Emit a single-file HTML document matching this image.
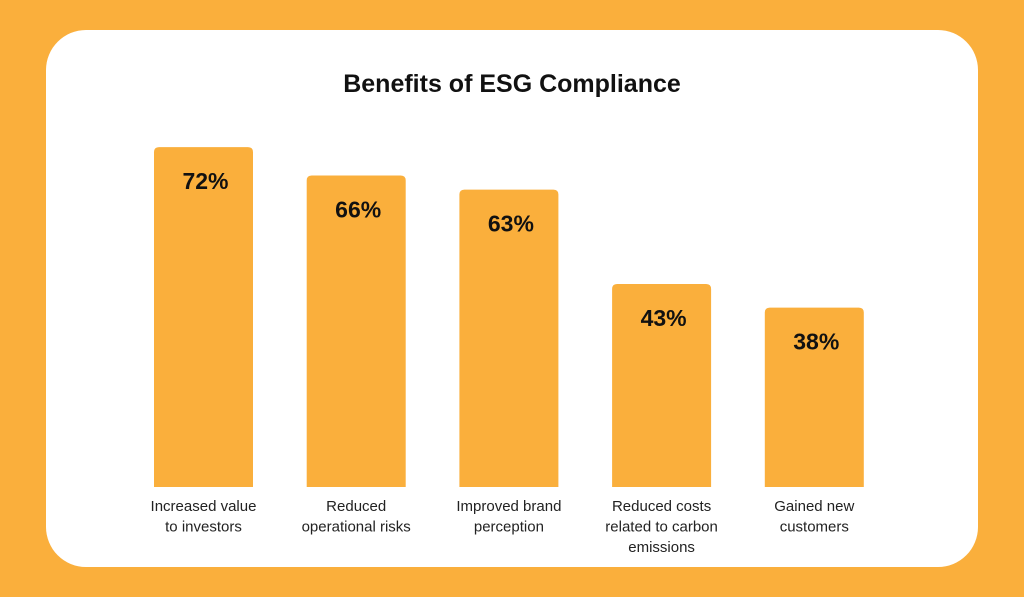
<!DOCTYPE html>
<html><head><meta charset="utf-8"><style>
html,body{margin:0;padding:0;}
body{width:1024px;height:597px;background:#FAAF3C;position:relative;overflow:hidden;font-family:"Liberation Sans",sans-serif;}
#card{position:absolute;left:46px;top:30px;width:932px;height:537px;background:#fff;border-radius:40px;}
#title{position:absolute;left:0;top:70px;width:1024px;text-align:center;font-size:25px;font-weight:bold;color:#111;}
svg{position:absolute;left:0;top:0;}
</style></head><body>
<div id="card"></div>
<div id="title">Benefits of ESG Compliance</div>
<svg id="chart" width="1024" height="597"></svg>
<script>
const categories=[["Increased value","to investors"],["Reduced","operational risks"],["Improved brand","perception"],["Reduced costs","related to carbon","emissions"],["Gained new","customers"]];
const values=[72,66,63,43,38];
const valueLabels=["72%","66%","63%","43%","38%"];
const svg=document.getElementById('chart');
const NS='http://www.w3.org/2000/svg';
const baseY=487, pxPer=4.72, x0=154, step=152.7, bw=99;
function xPos(i){return x0+i*step;}
function yPos(v){return baseY-v*pxPer;}
values.forEach((v,i)=>{
  const x=xPos(i), y=yPos(v);
  const r=document.createElementNS(NS,'path');
  
  
  const rad=5;
  r.setAttribute('d',`M${x},${baseY} V${y+rad} Q${x},${y} ${x+rad},${y} H${x+bw-rad} Q${x+bw},${y} ${x+bw},${y+rad} V${baseY} Z`);
  r.setAttribute('fill','#FAAF3C');
  svg.appendChild(r);
  const t=document.createElementNS(NS,'text');
  
  
  t.setAttribute('x',x+bw/2+2);t.setAttribute('y',y+42);
  t.setAttribute('text-anchor','middle');t.setAttribute('font-size','23');t.setAttribute('font-weight','bold');
  t.setAttribute('fill','#111');t.setAttribute('font-family','Liberation Sans, sans-serif');
  t.textContent=valueLabels[i];
  svg.appendChild(t);
  categories[i].forEach((line,j)=>{
    const c=document.createElementNS(NS,'text');
    
    
    c.setAttribute('x',x+bw/2);c.setAttribute('y',511+j*20.5);
    c.setAttribute('text-anchor','middle');c.setAttribute('font-size','15');
    c.setAttribute('fill','#222');c.setAttribute('font-family','Liberation Sans, sans-serif');
    c.textContent=line;
    svg.appendChild(c);
  });
});
</script>
</body></html>
